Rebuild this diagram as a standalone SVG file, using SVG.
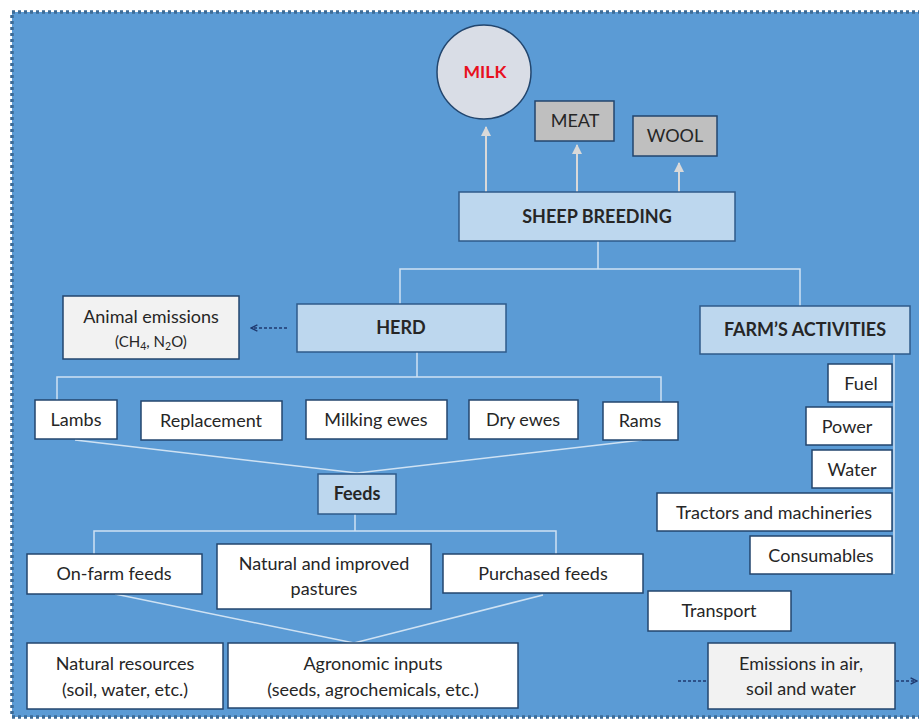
<svg xmlns="http://www.w3.org/2000/svg" width="919" height="720" viewBox="0 0 919 720">
<defs>
<style>
.t{font-family:Lato,"Liberation Sans",sans-serif;font-size:18px;fill:#262626;text-anchor:middle}
.b{font-weight:bold}
.wb{fill:#ffffff;stroke:#23466e;stroke-width:1.5}
.lb{fill:#bdd7ee;stroke:#2f5b8a;stroke-width:1.5}
.gb{fill:#f2f2f2;stroke:#23466e;stroke-width:1.5}
.pb{fill:#bfbfbf;stroke:#23466e;stroke-width:1.5}
.ln{fill:none;stroke:#cfe2f3;stroke-width:1.5}
.up{fill:none;stroke:#d9d9d9;stroke-width:2}
.da{fill:none;stroke:#1f3a70;stroke-width:1.6;stroke-dasharray:3 2}
</style>
<marker id="ah" viewBox="0 0 10 10" refX="9" refY="5" markerWidth="10" markerHeight="10" markerUnits="userSpaceOnUse" orient="auto">
<path d="M0,0 L10,5 L0,10 z" fill="#d9d9d9"/>
</marker>
<marker id="oh" viewBox="0 0 10 10" refX="9" refY="5" markerWidth="8" markerHeight="8" markerUnits="userSpaceOnUse" orient="auto">
<path d="M1,1 L9,5 L1,9" fill="none" stroke="#1f3a70" stroke-width="1.8"/>
</marker>
</defs>
<rect x="0" y="0" width="919" height="720" fill="#ffffff"/>
<rect x="12" y="12" width="930" height="705" fill="#5b9bd5" stroke="#3d6b96" stroke-width="3.5" stroke-dasharray="3 3"/>

<g id="connectors">
<line class="up" x1="486" y1="192" x2="486" y2="127" marker-end="url(#ah)"/>
<line class="up" x1="577" y1="192" x2="577" y2="145" marker-end="url(#ah)"/>
<line class="up" x1="679" y1="192" x2="679" y2="163" marker-end="url(#ah)"/>
<polyline class="ln" points="598,241 598,269"/>
<polyline class="ln" points="400,304 400,269 800,269 800,306"/>
<polyline class="ln" points="417,352 417,377"/>
<polyline class="ln" points="57,400 57,377 661,377 661,402"/>
<polyline class="ln" points="75,440 357,473 642,440"/>
<polyline class="ln" points="355,514 355,531"/>
<polyline class="ln" points="94,554 94,531 556,531 556,554"/>
<polyline class="ln" points="115,594 354,643 543,595"/>
<polyline class="ln" points="894,354 894,574"/>
<line class="da" x1="287" y1="328" x2="251" y2="328" marker-end="url(#oh)"/>
<line class="da" x1="678" y1="681" x2="708" y2="681"/>
<line class="da" x1="896" y1="681" x2="917" y2="681" marker-end="url(#oh)"/>
</g>

<g id="milk">
<circle cx="484" cy="72" r="47" fill="#d9dde6" stroke="#23466e" stroke-width="1.5"/>
<text class="t b" x="485" y="78" style="fill:#e8101e;font-size:17.5px">MILK</text>
</g>
<g id="meat">
<rect class="pb" x="535" y="101" width="79" height="40"/>
<text class="t" x="575" y="127">MEAT</text>
</g>
<g id="wool">
<rect class="pb" x="633" y="116" width="84" height="40"/>
<text class="t" x="675" y="142">WOOL</text>
</g>
<g id="sheep-breeding">
<rect class="lb" x="459" y="192" width="276" height="49"/>
<text class="t b" x="597" y="223">SHEEP BREEDING</text>
</g>
<g id="herd">
<rect class="lb" x="297" y="304" width="209" height="48"/>
<text class="t b" x="401" y="334">HERD</text>
</g>
<g id="animal-emissions">
<rect class="gb" x="63" y="296" width="176" height="63"/>
<text class="t" x="151" y="323">Animal emissions</text>
<text class="t" x="151" y="347" style="font-size:15px">(CH<tspan font-size="10.5" dy="3">4</tspan><tspan dy="-3">, N</tspan><tspan font-size="10.5" dy="3">2</tspan><tspan dy="-3">O)</tspan></text>
</g>
<g id="farms-activities">
<rect class="lb" x="700" y="306" width="210" height="48"/>
<text class="t b" x="805" y="336">FARM’S ACTIVITIES</text>
</g>
<g id="lambs">
<rect class="wb" x="35" y="400" width="82" height="39"/>
<text class="t" x="76" y="426">Lambs</text>
</g>
<g id="replacement">
<rect class="wb" x="141" y="401" width="141" height="39"/>
<text class="t" x="211" y="427">Replacement</text>
</g>
<g id="milking-ewes">
<rect class="wb" x="306" y="400" width="141" height="39"/>
<text class="t" x="376" y="426">Milking ewes</text>
</g>
<g id="dry-ewes">
<rect class="wb" x="469" y="400" width="109" height="39"/>
<text class="t" x="523" y="426">Dry ewes</text>
</g>
<g id="rams">
<rect class="wb" x="603" y="402" width="75" height="38"/>
<text class="t" x="640" y="427">Rams</text>
</g>
<g id="feeds">
<rect class="lb" x="318" y="474" width="78" height="40"/>
<text class="t b" x="357" y="500">Feeds</text>
</g>
<g id="on-farm-feeds">
<rect class="wb" x="27" y="554" width="175" height="40"/>
<text class="t" x="114" y="580">On-farm feeds</text>
</g>
<g id="pastures">
<rect class="wb" x="217" y="544" width="214" height="65"/>
<text class="t" x="324" y="570">Natural and improved</text>
<text class="t" x="324" y="595">pastures</text>
</g>
<g id="purchased-feeds">
<rect class="wb" x="443" y="554" width="200" height="39"/>
<text class="t" x="543" y="580">Purchased feeds</text>
</g>
<g id="natural-resources">
<rect class="wb" x="27" y="643" width="196" height="66"/>
<text class="t" x="125" y="670">Natural resources</text>
<text class="t" x="125" y="696">(soil, water, etc.)</text>
</g>
<g id="agronomic-inputs">
<rect class="wb" x="228" y="643" width="290" height="65"/>
<text class="t" x="373" y="670">Agronomic inputs</text>
<text class="t" x="373" y="696">(seeds, agrochemicals, etc.)</text>
</g>
<g id="transport">
<rect class="wb" x="648" y="591" width="143" height="40"/>
<text class="t" x="719" y="617">Transport</text>
</g>
<g id="emissions">
<rect class="gb" x="708" y="643" width="187" height="66"/>
<text class="t" x="801" y="670">Emissions in air,</text>
<text class="t" x="801" y="695">soil and water</text>
</g>
<g id="fuel">
<rect class="wb" x="828" y="364" width="64" height="38"/>
<text class="t" x="861" y="390">Fuel</text>
</g>
<g id="power">
<rect class="wb" x="806" y="407" width="86" height="38"/>
<text class="t" x="847" y="433">Power</text>
</g>
<g id="water">
<rect class="wb" x="812" y="450" width="80" height="38"/>
<text class="t" x="852" y="476">Water</text>
</g>
<g id="tractors">
<rect class="wb" x="657" y="493" width="235" height="38"/>
<text class="t" x="774" y="519">Tractors and machineries</text>
</g>
<g id="consumables">
<rect class="wb" x="750" y="536" width="142" height="38"/>
<text class="t" x="821" y="562">Consumables</text>
</g>
</svg>
